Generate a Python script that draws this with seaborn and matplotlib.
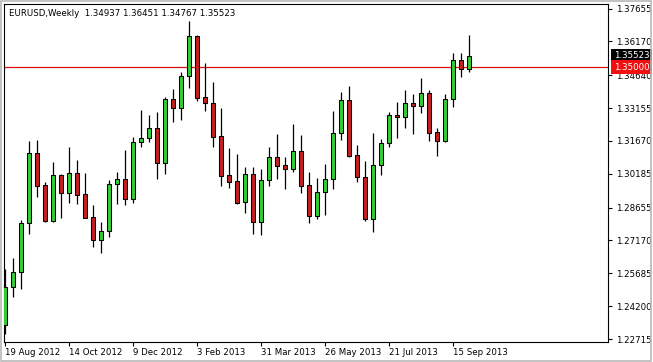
import numpy as np
import pandas as pd
import matplotlib
matplotlib.use("Agg")
import matplotlib.pyplot as plt
from matplotlib.patches import Rectangle
import seaborn as sns

title_text = "EURUSD,Weekly  1.34937 1.36451 1.34767 1.35523"

opens = [1.2335, 1.2505, 1.2573, 1.2795, 1.3111, 1.2968, 1.2804, 1.3013, 1.2930, 1.3021,
         1.2926, 1.2822, 1.2719, 1.2760, 1.2972, 1.2994, 1.2903, 1.3164, 1.3179, 1.3224,
         1.3066, 1.3355, 1.3315, 1.3462, 1.3641, 1.3364, 1.3337, 1.3189, 1.3013, 1.2986,
         1.2890, 1.3016, 1.2802, 1.2990, 1.3093, 1.3057, 1.3039, 1.3121, 1.2968, 1.2829,
         1.2935, 1.2994, 1.3201, 1.3352, 1.3103, 1.3005, 1.2813, 1.3058, 1.3156, 1.3284,
         1.3274, 1.3337, 1.3327, 1.3382, 1.3206, 1.3168, 1.3357, 1.3533, 1.34937]
highs = [1.2587, 1.2639, 1.2810, 1.3167, 1.3171, 1.2983, 1.3070, 1.3017, 1.3141, 1.3081,
         1.3021, 1.2877, 1.2799, 1.2990, 1.3025, 1.3126, 1.3183, 1.3307, 1.3284, 1.3296,
         1.3364, 1.3400, 1.3477, 1.3709, 1.3646, 1.3518, 1.3432, 1.3315, 1.3134, 1.3107,
         1.3048, 1.3048, 1.3039, 1.3138, 1.3198, 1.3093, 1.3244, 1.3194, 1.3028, 1.2998,
         1.3063, 1.3302, 1.3390, 1.3415, 1.3149, 1.3076, 1.3203, 1.3174, 1.3296, 1.3344,
         1.3397, 1.3379, 1.3451, 1.3397, 1.3225, 1.3378, 1.3566, 1.3566, 1.36451]
lows = [1.2294, 1.2463, 1.2499, 1.2748, 1.2915, 1.2800, 1.2800, 1.2820, 1.2888, 1.2881,
        1.2817, 1.2689, 1.2659, 1.2734, 1.2882, 1.2876, 1.2885, 1.3141, 1.3164, 1.2994,
        1.3016, 1.3254, 1.3262, 1.3408, 1.3348, 1.3304, 1.3141, 1.2965, 1.2953, 1.2882,
        1.2843, 1.2746, 1.2742, 1.2963, 1.2995, 1.2948, 1.3028, 1.2933, 1.2795, 1.2814,
        1.2832, 1.2948, 1.3171, 1.3096, 1.2983, 1.2805, 1.2754, 1.3013, 1.3141, 1.3180,
        1.3227, 1.3200, 1.3295, 1.3168, 1.3100, 1.3164, 1.3322, 1.3457, 1.34767]
closes = [1.2505, 1.2573, 1.2795, 1.3111, 1.2965, 1.2804, 1.3013, 1.2930, 1.3021, 1.2921,
          1.2820, 1.2719, 1.2760, 1.2972, 1.2994, 1.2903, 1.3164, 1.3179, 1.3224, 1.3066,
          1.3355, 1.3315, 1.3461, 1.3641, 1.3362, 1.3337, 1.3186, 1.3010, 1.2983, 1.2888,
          1.3016, 1.2802, 1.2990, 1.3093, 1.3055, 1.3039, 1.3121, 1.2965, 1.2829, 1.2935,
          1.2994, 1.3201, 1.3352, 1.3100, 1.3005, 1.2813, 1.3058, 1.3156, 1.3284, 1.3274,
          1.3337, 1.3327, 1.3382, 1.3205, 1.3168, 1.3357, 1.3533, 1.3491, 1.35523]

xtick_labels = ["19 Aug 2012", "14 Oct 2012", "9 Dec 2012", "3 Feb 2013",
                "31 Mar 2013", "26 May 2013", "21 Jul 2013", "15 Sep 2013"]
xtick_weeks = [0, 8, 16, 24, 32, 40, 48, 56]
ytick_values = [1.22715, 1.24200, 1.25685, 1.27170, 1.28655, 1.30185,
                1.31670, 1.33155, 1.34640, 1.36170, 1.37655]
ytick_labels = ["1.22715", "1.24200", "1.25685", "1.27170", "1.28655", "1.30185",
                "1.31670", "1.33155", "1.34640", "1.36170", "1.37655"]
last_price = 1.35523
level_price = 1.35000

UP = "#33CC33"
DOWN = "#C42020"
FS = 6.2

sns.set_theme(style="white")
plt.rcParams["font.family"] = ["DejaVu Sans"]

df = pd.DataFrame({"week": np.arange(len(opens)), "open": opens, "high": highs,
                   "low": lows, "close": closes})
df["bottom"] = df[["open", "close"]].min(axis=1)
df["height"] = (df["close"] - df["open"]).abs()
df["color"] = np.where(df["close"] >= df["open"], UP, DOWN)

W, H = 653, 362
fig = plt.figure(figsize=(W / 100, H / 100), dpi=100)
fig.patch.set_facecolor("white")
ax = fig.add_axes([4 / W, (H - 342) / H, 604 / W, 338 / H])
ax.set_facecolor("white")

ax.axhline(level_price, color="#D81010", lw=0.9, zorder=1)
ax.vlines(df["week"], df["low"], df["high"], color="black", lw=0.9, zorder=2)
ax.bar(df["week"], df["height"], bottom=df["bottom"], width=0.52,
       color=df["color"], edgecolor="black", linewidth=0.75, zorder=3)

ax.set_xlim(-0.125, 75.375)
ax.set_ylim(1.225794, 1.378597)

ax.yaxis.tick_right()
ax.set_yticks(ytick_values)
ax.set_yticklabels(ytick_labels, fontsize=FS, color="black")
ax.set_xticks(xtick_weeks)
ax.set_xticklabels(xtick_labels, fontsize=FS, color="black", ha="left")
ax.tick_params(axis="y", which="both", right=True, left=False, length=3,
               width=0.8, color="black", pad=2.5)
ax.tick_params(axis="x", which="both", bottom=True, length=3, width=0.8,
               color="black", pad=1.5)
for lab in ax.get_xticklabels():
    lab.set_horizontalalignment("left")

for s in ax.spines.values():
    s.set_color("black")
    s.set_linewidth(0.8)
ax.grid(False)

ax.text(5 / 604, 1 - 9 / 338, title_text, transform=ax.transAxes,
        fontsize=FS, color="black", ha="left", va="center")

for price, bg in [(last_price, "black"), (level_price, "#F01010")]:
    ax.annotate(f"{price:.5f}", xy=(1.0, price), xycoords=("axes fraction", "data"),
                xytext=(4.3, 0), textcoords="offset points", ha="left", va="center",
                fontsize=FS, color="white", annotation_clip=False,
                bbox=dict(boxstyle="square,pad=0.3", fc=bg, ec=bg, lw=0))

fig.patches.append(Rectangle((0.001, 0.002), 0.996, 0.995, transform=fig.transFigure,
                             fill=False, edgecolor="#B8B8B8", lw=1.2))

fig.savefig("out.png", dpi=100, facecolor="white")
